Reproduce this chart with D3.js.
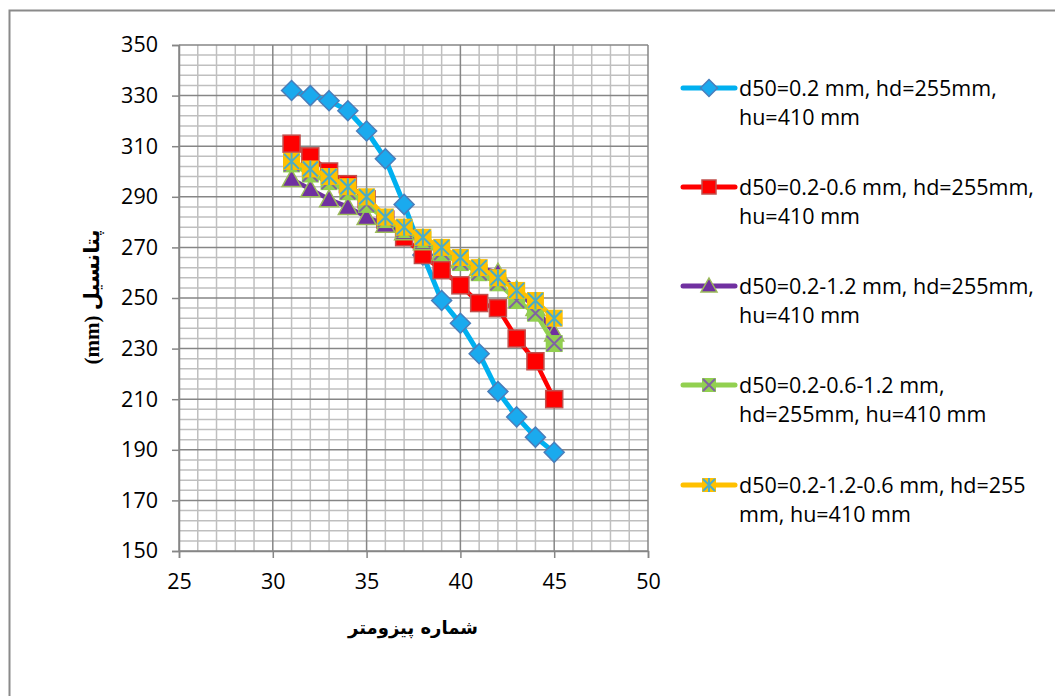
<!DOCTYPE html>
<html><head><meta charset="utf-8">
<script src="https://cdn.jsdelivr.net/npm/d3@7"></script>
<style>
html,body{margin:0;padding:0;background:#fff;}
svg{display:block;}
</style></head>
<body>
<svg id="c" width="1055" height="696"></svg>
<script>
// ---------- data ----------
const piezometers = [31,32,33,34,35,36,37,38,39,40,41,42,43,44,45];
const seriesNames = [
  ["d50=0.2 mm, hd=255mm,", "hu=410 mm"],
  ["d50=0.2-0.6 mm, hd=255mm,", "hu=410 mm"],
  ["d50=0.2-1.2 mm, hd=255mm,", "hu=410 mm"],
  ["d50=0.2-0.6-1.2 mm,", "hd=255mm, hu=410 mm"],
  ["d50=0.2-1.2-0.6 mm, hd=255", "mm, hu=410 mm"]
];
const s1 = [332,330,328,324,316,305,287,267,249,240,228,213,203,195,189];
const s2 = [311,306,300,295,289,281,274,267,261,255,248,246,234,225,210];
const s3 = [297,293,289,286,282,279,276,272,268,265,262,260,253,246,236];
const s4 = [303,299,296,292,287,281,277,273,268,264,260,256,249,244,232];
const s5 = [304,301,298,294,290,282,278,274,270,266,262,258,253,249,242];
const xTicks = [25,30,35,40,45,50];
const yTicks = [150,170,190,210,230,250,270,290,310,330,350];
const xTitle = "شماره پیزومتر";
const yTitle = "(mm) پتانسیل";

// ---------- styling ----------
const styles = [
  {line:"#00B0F0", marker:"diamond", fill:"#1AAAEE", stroke:"#4A7EBB"},
  {line:"#FF0000", marker:"square", fill:"#FF0000", stroke:"#C0504D"},
  {line:"#7030A0", marker:"triangle", fill:"#7030A0", stroke:"#9BBB59"},
  {line:"#92D050", marker:"xbox", fill:"#92D050", stroke:"#8064A2"},
  {line:"#FFC000", marker:"star", fill:"#FFC000", stroke:"#4BACC6"}
];
const allSeries = [s1,s2,s3,s4,s5];

const svg = d3.select("#c");
const FONT = "'Open Sans', 'Liberation Sans', sans-serif";

// outer border
svg.append("rect").attr("x",9.5).attr("y",10.5).attr("width",1100).attr("height",800)
  .attr("fill","none").attr("stroke","#8a8a8a").attr("stroke-width",2);

const x = d3.scaleLinear().domain([25,50]).range([179,648]);
const y = d3.scaleLinear().domain([150,350]).range([551,45]);

const grid = svg.append("g");
d3.range(25,50.001,1).forEach(v=>{
  if (v%5!==0) grid.append("line").attr("x1",x(v)).attr("x2",x(v)).attr("y1",y(150)).attr("y2",y(350))
    .attr("stroke","#BFBFBF").attr("stroke-width",1.5);
});
d3.range(150,350.001,4).forEach(v=>{
  if ((v-150)%20!==0) grid.append("line").attr("y1",y(v)).attr("y2",y(v)).attr("x1",x(25)).attr("x2",x(50))
    .attr("stroke","#BFBFBF").attr("stroke-width",1.5);
});
xTicks.forEach(v=>{
  grid.append("line").attr("x1",x(v)).attr("x2",x(v)).attr("y1",y(150)).attr("y2",y(350))
    .attr("stroke","#868686").attr("stroke-width",1.5);
});
yTicks.forEach(v=>{
  grid.append("line").attr("y1",y(v)).attr("y2",y(v)).attr("x1",x(25)).attr("x2",x(50))
    .attr("stroke","#868686").attr("stroke-width",1.5);
});

// axes
const xAxis = svg.append("g").attr("transform",`translate(0,${y(150)})`)
  .call(d3.axisBottom(x).tickValues(xTicks).tickSize(7).tickPadding(16).tickFormat(d3.format("d")));
const yAxis = svg.append("g").attr("transform",`translate(${x(25)},0)`)
  .call(d3.axisLeft(y).tickValues(yTicks).tickSize(7).tickPadding(14).tickFormat(d3.format("d")));
[xAxis,yAxis].forEach(a=>{
  a.select(".domain").attr("stroke","#868686").attr("stroke-width",1.5);
  a.selectAll(".tick line").attr("stroke","#868686").attr("stroke-width",1.5);
  a.selectAll("text").attr("font-family",FONT).attr("font-size",21.5).attr("fill","#000");
});

// axis titles
svg.append("text").attr("x",413).attr("y",634).attr("text-anchor","middle")
  .attr("font-family","'DejaVu Sans', sans-serif").attr("font-weight","bold").attr("font-size",18)
  .text(xTitle);
svg.append("text").attr("transform","translate(99,297) rotate(-90)").attr("text-anchor","middle")
  .attr("font-family","'Liberation Serif', 'DejaVu Sans', serif").attr("font-weight","bold").attr("font-size",21)
  .text(yTitle);

function drawMarker(g, type, st, cx, cy, s) {
  const h = s/2;
  if (type==="diamond") {
    g.append("path").attr("d",`M${cx},${cy-h-1.5}L${cx+h+1.5},${cy}L${cx},${cy+h+1.5}L${cx-h-1.5},${cy}Z`)
      .attr("fill",st.fill).attr("stroke",st.stroke).attr("stroke-width",1.5);
  } else if (type==="square") {
    g.append("rect").attr("x",cx-h).attr("y",cy-h).attr("width",s).attr("height",s)
      .attr("fill",st.fill).attr("stroke",st.stroke).attr("stroke-width",1.5);
  } else if (type==="triangle") {
    g.append("path").attr("d",`M${cx},${cy-h-1}L${cx+h+1},${cy+h-1}L${cx-h-1},${cy+h-1}Z`)
      .attr("fill",st.fill).attr("stroke",st.stroke).attr("stroke-width",1.5);
  } else if (type==="xbox") {
    g.append("rect").attr("x",cx-h).attr("y",cy-h).attr("width",s).attr("height",s).attr("fill",st.fill);
    g.append("path").attr("d",`M${cx-h+1},${cy-h+1}L${cx+h-1},${cy+h-1}M${cx+h-1},${cy-h+1}L${cx-h+1},${cy+h-1}`)
      .attr("stroke",st.stroke).attr("stroke-width",2);
  } else if (type==="star") {
    g.append("rect").attr("x",cx-h).attr("y",cy-h).attr("width",s).attr("height",s).attr("fill",st.fill);
    g.append("path").attr("d",`M${cx-h+1},${cy-h+1}L${cx+h-1},${cy+h-1}M${cx+h-1},${cy-h+1}L${cx-h+1},${cy+h-1}M${cx},${cy-h}L${cx},${cy+h}`)
      .attr("stroke",st.stroke).attr("stroke-width",2);
  }
}

const line = d3.line().x(d=>x(d[0])).y(d=>y(d[1]));
allSeries.forEach((vals,i)=>{
  const st = styles[i];
  const g = svg.append("g");
  const pts = piezometers.map((p,j)=>[p,vals[j]]);
  g.append("path").datum(pts).attr("d",line).attr("fill","none")
    .attr("stroke",st.line).attr("stroke-width",i===0?5:4.5).attr("stroke-linejoin","round");
  pts.forEach(p=>drawMarker(g, st.marker, st, x(p[0]), y(p[1]), 17));
});

// legend
const legendY = [88,187,286,385,485];
seriesNames.forEach((lines,i)=>{
  const st = styles[i];
  const g = svg.append("g");
  const cy = legendY[i];
  g.append("line").attr("x1",683).attr("x2",735).attr("y1",cy).attr("y2",cy)
    .attr("stroke",st.line).attr("stroke-width",5).attr("stroke-linecap","round");
  drawMarker(g, st.marker, st, 709, cy, 14);
  lines.forEach((t,k)=>{
    g.append("text").attr("x",739).attr("y",cy+7.5+k*29.5)
      .attr("font-family",FONT).attr("font-size",21.5).attr("fill","#000").text(t);
  });
});
</script>
</body></html>
